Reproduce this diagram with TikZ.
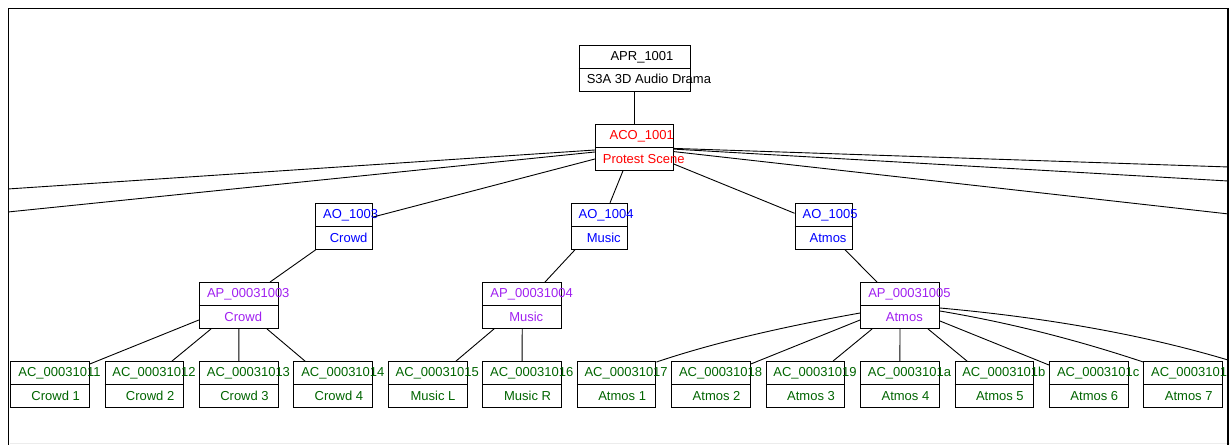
\documentclass[tikz,border=0pt]{standalone}
\usepackage{fontspec}
\setmainfont{Liberation Sans}
\newcommand\gvf{\fontsize{13pt}{15pt}\selectfont}
\newlength\gvwd
\definecolor{gvred}{RGB}{255,0,0}
\definecolor{gvblue}{RGB}{0,0,255}
\definecolor{gvpurple}{RGB}{160,32,240}
\definecolor{gvgreen}{RGB}{0,100,0}
\tikzset{
  rec/.style={draw=black, line width=0.9pt, inner sep=0pt, minimum height=46pt},
  gvtext/.style={anchor=base west, inner sep=0pt, font=\gvf},
  boxline/.style={draw=black, line width=0.9pt},
  edge/.style={draw=black, line width=0.9pt},
  frameline/.style={draw=black, line width=1.5pt},
}
% text that starts 0.3875 of its own width left of the given point
\newcommand\gvshift[1]{\settowidth{\gvwd}{#1}\hspace*{-0.3875\gvwd}#1}
% node name, top colour, top text, bottom colour, bottom text
\newcommand\gvlabels[5]{%
  \node[gvtext,text=#2] (#1-t) at ([yshift=7.8pt]#1.center) {\gvshift{#3}};%
  \node[gvtext,text=#4] (#1-b) at ([yshift=-15.7pt]#1.center) {\gvshift{#5}};%
  \draw[boxline] (#1.west) -- (#1.east);%
}
\begin{document}
\begin{tikzpicture}[x=1pt,y=-1pt]
\useasboundingbox (0,0) rectangle (1230,444);
\begin{scope}
\clip (8.3,8.3) rectangle (1228.2,460);
% boxes
\node[rec, minimum width=111.3pt] (apr) at (634.7,68) {};
\node[rec, minimum width=78pt] (aco) at (634.3,147.3) {};
\node[rec, minimum width=57pt] (ao3) at (344.2,226.3) {};
\node[rec, minimum width=56pt] (ao4) at (599.7,226.3) {};
\node[rec, minimum width=57.3pt] (ao5) at (823.7,226.3) {};
\node[rec, minimum width=79pt] (ap3) at (238.8,305.5) {};
\node[rec, minimum width=79pt] (ap4) at (522.2,305.5) {};
\node[rec, minimum width=79pt] (ap5) at (900,305.5) {};
\foreach \i/\lab [count=\k from 0] in {11/Crowd 1,12/Crowd 2,13/Crowd 3,14/Crowd 4,15/Music L,16/Music R,17/Atmos 1,18/Atmos 2,19/Atmos 3,1a/Atmos 4,1b/Atmos 5,1c/Atmos 6,1d/Atmos 7}{
  \node[rec, minimum width=78.7pt] (ac\i) at ({50+94.43*\k},384.5) {};
  \gvlabels{ac\i}{gvgreen}{AC\_000310\i}{gvgreen}{\lab}
}
\gvlabels{apr}{black}{APR\_1001}{black}{S3A 3D Audio Drama}
\gvlabels{aco}{gvred}{ACO\_1001}{gvred}{Protest Scene}
\gvlabels{ao3}{gvblue}{AO\_1003}{gvblue}{Crowd}
\gvlabels{ao4}{gvblue}{AO\_1004}{gvblue}{Music}
\gvlabels{ao5}{gvblue}{AO\_1005}{gvblue}{Atmos}
\gvlabels{ap3}{gvpurple}{AP\_00031003}{gvpurple}{Crowd}
\gvlabels{ap4}{gvpurple}{AP\_00031004}{gvpurple}{Music}
\gvlabels{ap5}{gvpurple}{AP\_00031005}{gvpurple}{Atmos}
% free ends of edges leaving the frame
\coordinate (offL1) at (0,189.5);
\coordinate (offL2) at (0,212.8);
\coordinate (offR1) at (1235,167.2);
\coordinate (offR2) at (1235,181.4);
\coordinate (offR3) at (1235,214.7);
\coordinate (offR4) at (1229,360.3);
% edges
\draw[edge] (apr.south) -- (apr.south |- aco.north);
\draw[edge] ([yshift=-2.7pt]aco.west) -- (offL1);
\draw[edge] ([yshift=-4.7pt]aco.west) -- (offL2);
\draw[edge] ([yshift=-1.1pt]aco.east) -- (offR1);
\draw[edge] ([yshift=-1.8pt]aco.east) -- (offR2);
\draw[edge] ([yshift=-4.3pt]aco.east) -- (offR3);
\draw[edge] ([yshift=-11.7pt]aco.west) -- ([yshift=9.3pt]ao3.east);
\draw[edge] ([xshift=-11.3pt]aco.south) -- ([xshift=10.3pt]ao4.north);
\draw[edge] ([yshift=-16.7pt]aco.east) -- ([yshift=13pt]ao5.west);
\draw[edge] ([xshift=0.5pt]ao3.south west) -- ([xshift=31.2pt]ap3.north);
\draw[edge] ([xshift=-24.7pt]ao4.south) -- ([xshift=22.8pt]ap4.north);
\draw[edge] ([xshift=21.3pt]ao5.south) -- ([xshift=-23pt]ap5.north);
\draw[edge] ([yshift=-14.5pt]ap3.west) -- ([yshift=20.5pt]ac11.east);
\draw[edge] ([xshift=-27.8pt]ap3.south) -- ([xshift=27.6pt]ac12.north);
\draw[edge] (ap3.south) -- (ac13.north);
\draw[edge] ([xshift=28.2pt]ap3.south) -- ([xshift=-28.3pt]ac14.north);
\draw[edge] ([xshift=-28.2pt]ap4.south) -- ([xshift=28.3pt]ac15.north);
\draw[edge] (ap4.south) -- (ac16.north);
\draw[edge] ([yshift=-7.5pt]ap5.west) .. controls +(-80.5,14.4) and +(55.3,-18.7) .. ([yshift=-1pt]ac17.north east);
\draw[edge] ([yshift=-14.5pt]ap5.west) -- ([yshift=20.5pt]ac18.east);
\draw[edge] ([xshift=-27.9pt]ap5.south) -- ([xshift=27.6pt]ac19.north);
\draw[edge] (ap5.south) -- (ac1a.north);
\draw[edge] ([xshift=28pt]ap5.south) -- ([xshift=-27.3pt]ac1b.north);
\draw[edge] ([yshift=-15.5pt]ap5.east) -- ([yshift=19.5pt]ac1c.west);
\draw[edge] ([yshift=-5.5pt]ap5.east) .. controls +(67.1,11.3) and +(-69.2,-23.1) .. ([yshift=-1pt]ac1d.north west);
\draw[edge] ([yshift=-2.5pt]ap5.east) .. controls +(109.8,9.9) and +(-83.3,-25) .. (offR4);
\end{scope}
\draw[gray!15, line width=1pt] (9.5,443.5) -- (1230,443.5);
\draw[frameline] (8.3,460) -- (8.3,8.3) -- (1228.2,8.3) -- (1228.2,460);
\end{tikzpicture}
\end{document}
